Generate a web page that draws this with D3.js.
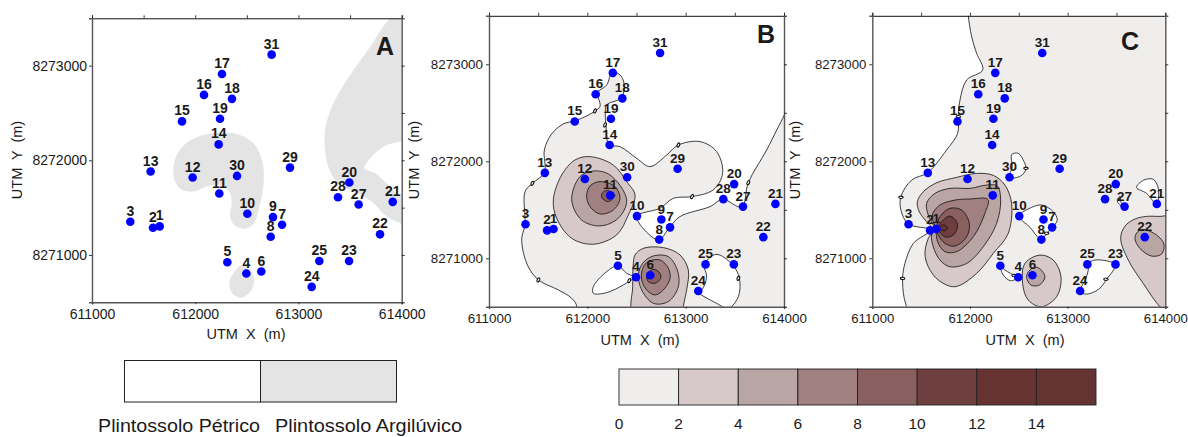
<!DOCTYPE html>
<html><head><meta charset="utf-8">
<script src="https://cdnjs.cloudflare.com/ajax/libs/d3/7.8.5/d3.min.js"></script>
<style>html,body{margin:0;padding:0;background:#fff}svg{display:block}text{font-family:"Liberation Sans",Arial,sans-serif;fill:#1a1a1a}</style>
</head><body><svg id="c" width="1188" height="437"></svg>
<script>
// ---- data (UTM metres; shape vertices are offsets from E0 / N0)
const E0 = 611000, N0 = 8270000;
const xTicks = [611000, 612000, 613000, 614000];
const yTicks = [8271000, 8272000, 8273000];
const xMinor = [611000, 611500, 612000, 612500, 613000, 613500, 614000];
const yMinor = [8271000, 8271500, 8272000, 8272500, 8273000];
const wellLabels = ["1","2","3","4","5","6","7","8","9","10","11","12","13","14","15","16","17","18","19","20","21","22","23","24","25","27","28","29","30","31"];
const wellE = [611656,611591,611371,612495,612311,612640,612841,612731,612753,612505,612233,611975,611568,612227,611872,612085,612259,612356,612240,613493,613913,613790,613490,613128,613202,613583,613383,612918,612405,612740];
const wellN = [8271302,8271288,8271351,8270804,8270923,8270825,8271319,8271193,8271400,8271435,8271649,8271818,8271881,8272168,8272411,8272691,8272912,8272649,8272439,8271765,8271561,8271218,8270937,8270663,8270937,8271533,8271610,8271923,8271835,8273116];

const levelLabels = ["0","2","4","6","8","10","12","14"];
const levelColors = ["#f0eded","#d7c9c9","#baa5a5","#a08080","#8a5f5f","#6f3e3e","#663232","#663333"];
const soilNames = ["Plintossolo Pétrico","Plintossolo Argilúvico"];
const soilColors = ["#ffffff","#e4e4e4"];

// Panel A soil polygons
const soilCentral = [[788,1898],[820,2056],[917,2186],[1078,2267],[1256,2291],[1434,2267],[1579,2161],[1653,1968],[1660,1723],[1621,1512],[1569,1337],[1482,1277],[1385,1309],[1337,1407],[1353,1547],[1337,1653],[1240,1740],[1111,1723],[982,1670],[869,1688],[804,1775]];
const soilSouth = [[1450,891],[1514,863],[1569,758],[1547,635],[1450,547],[1369,582],[1330,688],[1360,793]];
const soilEast = [[3080,3635],[2887,3498],[2693,3196],[2467,2845],[2322,2564],[2257,2319],[2257,2108],[2289,1933],[2383,1761],[2564,1656],[2722,1551],[2855,1406],[3000,1330],[3129,1287],[3129,1617],[3000,1617],[2870,1740],[2741,1866],[2638,1916],[2709,2038],[2838,2150],[3000,2203],[3129,2235],[3200,3000]];

// Panel B isolines
const bLevel0 = [[892,499],[841,588],[705,674],[502,777],[390,932],[332,1189],[366,1351],[366,1687],[441,1773],[563,1883],[563,2117],[637,2282],[756,2385],[868,2416],[993,2467],[1078,2519],[1129,2564],[1112,2650],[1081,2694],[1197,2787],[1251,2918],[1332,2890],[1373,2804],[1349,2656],[1197,2581],[1183,2478],[1190,2375],[1220,2172],[1332,2151],[1502,2031],[1637,1945],[1807,2065],[1926,2168],[2146,2203],[2315,2100],[2376,1876],[2281,1705],[2065,1636],[1875,1619],[1739,1516],[1502,1430],[1722,1189],[1834,1316],[1942,1430],[2248,1533],[2376,1608],[2570,1529],[2637,1780],[2824,2117],[2926,2323],[2987,2443],[3061,2598],[3300,2900],[3300,300],[800,300]];
const bHole45 = [[1310,921],[1197,863],[1061,708],[1061,639],[1197,646],[1366,725],[1434,770],[1485,801],[1400,846]];
const bHole24 = [[2122,657],[2315,536],[2434,485],[2536,605],[2546,794],[2478,932],[2309,1041],[2190,932],[2214,811],[2163,674]];
const b11L2 = [[1027,2048],[1264,1962],[1400,1790],[1485,1653],[1417,1447],[1298,1241],[1061,1145],[841,1206],[688,1413],[654,1602],[739,1859],[875,2014]];
const b11L4 = [[1061,1900],[1231,1859],[1400,1602],[1315,1413],[1129,1334],[942,1395],[841,1602],[925,1842]];
const b11L6 = [[1129,1791],[1281,1739],[1332,1619],[1264,1498],[1129,1457],[1027,1533],[993,1643],[1027,1746]];
const b11L8 = [[1203,1698],[1281,1653],[1214,1584],[1146,1629],[1156,1677]];
const b6L2 = [[1468,430],[1461,708],[1468,949],[1485,1035],[1570,1103],[1773,1110],[1942,1035],[2027,880],[2010,674],[1976,499],[1976,416]];
const b6L4 = [[1519,828],[1563,949],[1671,1024],[1824,1017],[1915,880],[1926,708],[1824,554],[1671,536],[1553,674]];
const b6L6 = [[1563,897],[1620,966],[1739,983],[1824,897],[1841,794],[1773,674],[1688,622],[1603,674],[1553,777]];
const b6L8 = [[1671,887],[1739,846],[1746,794],[1688,743],[1620,760],[1603,828]];
const bLoops = [[1078,2519],[1180,2375],[441,1773],[502,777],[1926,2168],[2065,1636],[2637,1780],[2536,794],[1427,770]];

// Panel C isolines
const cWest = [[983,3594],[983,3505],[1017,3285],[1068,3113],[1130,2942],[966,2838],[898,2632],[881,2478],[874,2289],[761,2117],[567,1883],[403,1807],[293,1635],[293,1497],[369,1353],[590,1291],[420,1154],[334,947],[310,793],[324,604],[351,501],[386,400],[-300,400],[-300,3600]];
const cHole30 = [[1426,2068],[1495,2082],[1553,1996],[1573,1920],[1519,1848],[1403,1834],[1433,1944]];
const cHole10 = [[1505,1435],[1631,1525],[1734,1549],[1853,1480],[1894,1394],[1839,1315],[1785,1257],[1730,1195],[1614,1319]];
const cHole5 = [[1310,920],[1341,827],[1416,769],[1488,803],[1416,844],[1358,879]];
const cHole24 = [[2198,934],[2280,982],[2485,934],[2399,782],[2314,679],[2194,631],[2126,658],[2188,793],[2212,896]];
const cHole21 = [[2706,1731],[2781,1807],[2877,1814],[2928,1721],[2911,1559],[2809,1669]];
const cHole27 = [[2519,1567],[2509,1608],[2536,1636],[2543,1584],[2580,1533]];
const c22L2 = [[2809,1432],[2945,1432],[3184,1432],[3184,329],[2962,483],[2774,741],[2621,982],[2543,1205],[2587,1332],[2689,1405]];
const c22L4 = [[2774,1298],[2911,1240],[2986,1147],[2962,1044],[2860,1023],[2740,1102],[2689,1205],[2717,1274]];
const c6L2 = [[1717,1033],[1853,982],[1932,810],[1887,604],[1734,501],[1597,569],[1539,741],[1563,947]];
const c6L4 = [[1693,906],[1768,810],[1710,724],[1624,724],[1580,810],[1614,879]];
const cBigL2 = [[624,1291],[556,1377],[481,1480],[461,1583],[522,1686],[659,1779],[863,1834],[1068,1875],[1239,1855],[1358,1755],[1426,1566],[1392,1257],[1239,1051],[1068,844],[846,707],[676,776],[573,913],[539,1051],[573,1205]];
const cBigL4 = [[635,1308],[573,1446],[556,1566],[641,1669],[795,1721],[1000,1721],[1170,1755],[1280,1745],[1314,1600],[1273,1360],[1136,1119],[966,947],[795,913],[693,982],[624,1119],[607,1240]];
const cBigL6 = [[648,1308],[614,1446],[693,1549],[846,1600],[1000,1611],[1184,1607],[1153,1463],[1034,1222],[863,1068],[744,1068],[669,1171]];
const cBigL8 = [[659,1308],[693,1429],[795,1515],[915,1497],[993,1360],[966,1222],[846,1126],[744,1154],[682,1229]];
const cBigL10 = [[676,1319],[727,1394],[795,1435],[870,1360],[846,1257],[761,1216],[700,1257]];
const cBigL12 = [[686,1312],[727,1346],[771,1315],[734,1281]];
const cLoops = [[293,1629],[881,2460],[1573,1928],[1785,1258],[2392,784],[310,793],[1451,822]];

// ---- layout
const panels = [
 {id:"A", x:[92,401.7], y:[302.3,18.3], base:"#fff", fs:14, lab:14, letter:[385,55],
  title:[246,339], ytitle:[22,160], yLabGap:5,
  layers:[[soilCentral,soilColors[1]],[soilSouth,soilColors[1]],[soilEast,soilColors[1]]], stroke:false, loops:[], loopRot:0},
 {id:"B", x:[489,784], y:[306.8,15.8], base:"#fff", fs:13.4, lab:13.5, letter:[766,43],
  title:[640,345], ytitle:[419,160], yLabGap:6,
  layers:[[bLevel0,levelColors[0]],[bHole45,"#fff"],[bHole24,"#fff"],
    [b11L2,levelColors[1]],[b11L4,levelColors[2]],[b11L6,levelColors[3]],[b11L8,levelColors[4]],
    [b6L2,levelColors[1]],[b6L4,levelColors[2]],[b6L6,levelColors[3]],[b6L8,levelColors[4]]],
  stroke:true, loops:bLoops, loopRot:25},
 {id:"C", x:[872.3,1165.3], y:[306.8,15.8], base:levelColors[0], fs:13.2, lab:13.5, letter:[1130,50],
  title:[1025,345], ytitle:[800,160], yLabGap:6,
  layers:[[cWest,"#fff"],[cHole30,"#fff"],[cHole10,"#fff"],[cHole5,"#fff"],[cHole24,"#fff"],[cHole21,"#fff"],[cHole27,"#fff"],
    [c22L2,levelColors[1]],[c22L4,levelColors[2]],[c6L2,levelColors[1]],[c6L4,levelColors[2]],
    [cBigL2,levelColors[1]],[cBigL4,levelColors[2]],[cBigL6,levelColors[3]],[cBigL8,levelColors[4]],[cBigL10,levelColors[5]],[cBigL12,levelColors[6]]],
  stroke:true, loops:cLoops, loopRot:90}
];

const svg = d3.select("#c");
panels.forEach(p=>{
  const x = d3.scaleLinear().domain([611000,614000]).range(p.x);
  const y = d3.scaleLinear().domain([8270500,8273500]).range(p.y);
  const g = svg.append("g");
  const cid = "clip"+p.id;
  g.append("clipPath").attr("id",cid).append("rect")
    .attr("x",p.x[0]).attr("y",p.y[1]).attr("width",p.x[1]-p.x[0]).attr("height",p.y[0]-p.y[1]);
  const plot = g.append("g").attr("clip-path",`url(#${cid})`);
  plot.append("rect").attr("x",p.x[0]).attr("y",p.y[1]).attr("width",p.x[1]-p.x[0]).attr("height",p.y[0]-p.y[1]).attr("fill",p.base);
  const line = d3.line().x(d=>x(E0+d[0])).y(d=>y(N0+d[1])).curve(d3.curveCatmullRomClosed.alpha(0.5));
  plot.selectAll("path.iso").data(p.layers).join("path").attr("class","iso")
    .attr("d",d=>line(d[0])).attr("fill",d=>d[1])
    .attr("stroke",p.stroke?"#111":"none").attr("stroke-width",0.8);
  plot.selectAll("ellipse").data(p.loops).join("ellipse")
    .attr("transform",d=>`translate(${x(E0+d[0])},${y(N0+d[1])}) rotate(${p.loopRot})`)
    .attr("rx",1.2).attr("ry",2.2).attr("fill","#fff").attr("stroke","#111").attr("stroke-width",1.1);

  // axes
  const bottom = d3.axisBottom(x).tickValues(xTicks).tickSize(2).tickPadding(5).tickFormat(d3.format("d"));
  const left = d3.axisLeft(y).tickValues(yTicks).tickSize(3).tickPadding(p.yLabGap-3).tickFormat(d3.format("d"));
  const top = d3.axisTop(x).tickValues(xMinor).tickSize(3).tickFormat("");
  const right = d3.axisRight(y).tickValues(yMinor).tickSize(3).tickFormat("");
  const ax = (gen,tx,ty,col,w)=>{
    const a = g.append("g").attr("transform",`translate(${tx},${ty})`).call(gen);
    a.select(".domain").attr("stroke",col).attr("stroke-width",w);
    a.selectAll(".tick line").attr("stroke","#222").attr("stroke-width",0.9);
    a.selectAll("text").attr("font-size",p.fs).attr("font-family","Liberation Sans").attr("fill","#1a1a1a");
    return a;
  };
  ax(top,0,p.y[1],"#111",1);
  ax(right,p.x[1],0,"#555",1.4);
  ax(bottom,0,p.y[0],"#555",1.6);
  ax(left,p.x[0],0,"#555",1.4);

  // wells
  const wells = wellLabels.map((l,i)=>({l,e:wellE[i],n:wellN[i]}));
  g.selectAll("circle").data(wells).join("circle")
    .attr("cx",d=>x(d.e)).attr("cy",d=>y(d.n)).attr("r",4.3).attr("fill","#0000ff");
  g.selectAll("text.well").data(wells).join("text").attr("class","well")
    .attr("x",d=>x(d.e)).attr("y",d=>y(d.n)-6).attr("text-anchor","middle")
    .attr("font-size",p.lab).attr("font-weight","bold").text(d=>d.l);

  g.append("text").attr("x",p.letter[0]).attr("y",p.letter[1]).attr("text-anchor","middle")
    .attr("font-size",25).attr("font-weight","bold").attr("fill","#000").text(p.id);
  g.append("text").attr("x",p.title[0]).attr("y",p.title[1]).attr("text-anchor","middle")
    .attr("font-size",14.5).style("white-space","pre").text("UTM  X  (m)");
  g.append("text").attr("transform",`translate(${p.ytitle[0]},${p.ytitle[1]}) rotate(-90)`).attr("text-anchor","middle")
    .attr("font-size",14.5).style("white-space","pre").text("UTM  Y  (m)");
});

// soil legend
const sx = d3.scaleBand().domain(soilNames).range([124.5,396.5]);
svg.selectAll("rect.soil").data(soilNames).join("rect").attr("class","soil")
  .attr("x",d=>sx(d)).attr("y",360.5).attr("width",sx.bandwidth()).attr("height",41.5)
  .attr("fill",(d,i)=>soilColors[i]).attr("stroke","#222").attr("stroke-width",1);
const soilTextX = [98,275], soilTextW = [162,187];
svg.selectAll("text.soil").data(soilNames).join("text").attr("class","soil")
  .attr("x",(d,i)=>soilTextX[i]).attr("y",432).attr("font-size",17.5)
  .attr("textLength",(d,i)=>soilTextW[i]).attr("lengthAdjust","spacingAndGlyphs").text(d=>d);

// colour scale legend
const cx = d3.scaleBand().domain(levelLabels).range([619,1096]);
svg.selectAll("rect.lev").data(levelLabels).join("rect").attr("class","lev")
  .attr("x",d=>cx(d)).attr("y",369).attr("width",cx.bandwidth()).attr("height",36)
  .attr("fill",(d,i)=>levelColors[i]).attr("stroke","#222").attr("stroke-width",0.9);
svg.selectAll("text.lev").data(levelLabels).join("text").attr("class","lev")
  .attr("x",d=>cx(d)).attr("y",428.5).attr("text-anchor","middle").attr("font-size",15.5).text(d=>d);
</script></body></html>
